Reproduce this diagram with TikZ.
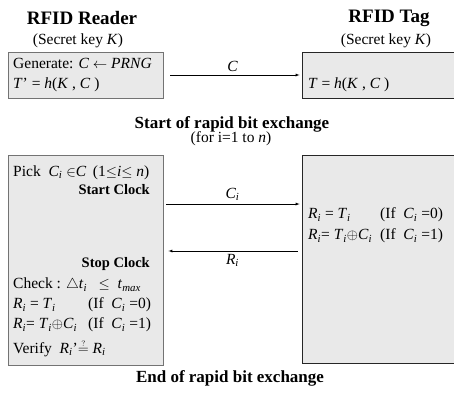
\documentclass[tikz,border=0pt]{standalone}
\usepackage{fontspec}
\setmainfont{Liberation Serif}
\usetikzlibrary{positioning,arrows}
\definecolor{boxgray}{RGB}{233,233,233}
\definecolor{edgegray}{RGB}{115,115,115}
\tikzset{
  reader/.style={rectangle, draw=edgegray, fill=boxgray, thick, minimum width=155pt, inner sep=0pt},
  tagbox/.style={rectangle, draw=black!85, fill=boxgray, thick, minimum width=158pt, inner sep=0pt},
  title/.style={font=\fontsize{19}{22}\selectfont\bfseries},
  sub/.style={font=\fontsize{15.5}{18}\selectfont},
  txt/.style={anchor=west, inner sep=0pt, font=\fontsize{15.5}{18}\selectfont},
  clk/.style={anchor=east, inner sep=0pt, font=\fontsize{14.5}{17}\selectfont\bfseries},
  head/.style={font=\fontsize{17}{20}\selectfont\bfseries},
  line/.style={draw, thin, -latex, shorten >=2pt},
  lab/.style={font=\fontsize{15.5}{18}\selectfont},
}
\newcommand{\vsub}[2]{\textit{#1}\textsubscript{\textit{#2}}}

\begin{document}
\begin{tikzpicture}[x=1pt,y=1pt]
  \useasboundingbox (0,0) rectangle (454,392);
  % titles
  \node[title, inner sep=0pt] (rdr) at (82,374) {RFID Reader};
  \node[sub, inner sep=0pt] (rkey) at (78,351) {(Secret key \textit{K})};
  \node[title, inner sep=0pt] (tg) at (389,374) {RFID Tag};
  \node[sub, inner sep=0pt] (tkey) at (386,351) {(Secret key \textit{K})};

  % first exchange
  \node[reader, minimum height=46pt] (gen) at (85.5,317) {};
  \node[tagbox, minimum height=46pt] (tagT) at (381,317) {};
  \node[txt] (g1) at (13,329) {Generate: \textit{C} $\leftarrow$ \textit{PRNG}};
  \node[txt] (g2) at (13,307) {\textit{T}' = \textit{h}(\textit{K} , \textit{C} )};
  \node[txt] (t1) at (308,307) {\textit{T} = \textit{h}(\textit{K} , \textit{C} )};
  \path[line, shorten <=7pt] (gen) -- node[lab, above] (clab) {\textit{C}} (tagT);

  \node[head] (startx) at (232,268) {Start of rapid bit exchange};
  \node[sub] (forn) at (231,253) {(for i=1 to \textit{n})};

  % rapid bit exchange
  \node[reader, minimum height=210pt] (rl) at (85.5,132) {};
  \node[tagbox, minimum height=208pt] (tl) at (381,133) {};
  \node[txt] (pick) at (13,219) {Pick \ \vsub{C}{i} $\in$\textit{C} \,(1$\leq$\textit{i}$\leq$ \textit{n})};
  \node[clk] (startclk) at (150,202) {Start Clock};
  \node[clk] (stopclk) at (150,128) {Stop Clock};
  \node[txt] (check) at (13,107) {Check : $\triangle$\vsub{t}{i} \enspace$\leq$\enspace \vsub{t}{max}};
  \node[txt] (rr0) at (13,87) {\makebox[75pt][l]{\vsub{R}{i} = \vsub{T}{i}}(If \ \vsub{C}{i} =0)};
  \node[txt] (rr1) at (13,67) {\makebox[75pt][l]{\vsub{R}{i}= \vsub{T}{i}$\oplus$\vsub{C}{i}}(If \ \vsub{C}{i} =1)};
  \node[txt] (ver) at (13,44) {Verify \ \vsub{R}{i}'$\stackrel{\scriptscriptstyle ?}{=}$ \vsub{R}{i}};
  \node[txt] (tr0) at (308,177) {\makebox[72pt][l]{\vsub{R}{i} = \vsub{T}{i}}(If \ \vsub{C}{i} =0)};
  \node[txt] (tr1) at (308,156) {\makebox[72pt][l]{\vsub{R}{i}= \vsub{T}{i}$\oplus$\vsub{C}{i}}(If \ \vsub{C}{i} =1)};
  \path[line, shorten <=3pt] ([yshift=56pt]rl.east) -- node[lab, above] (cilab) {\vsub{C}{i}} ([yshift=55pt]tl.west);
  \path[line, shorten <=4pt, shorten >=5pt] ([yshift=8pt]tl.west) -- node[lab, below] (rilab) {\vsub{R}{i}} ([yshift=9pt]rl.east);

  \node[head] (endx) at (230,14) {End of rapid bit exchange};
\end{tikzpicture}
\end{document}
